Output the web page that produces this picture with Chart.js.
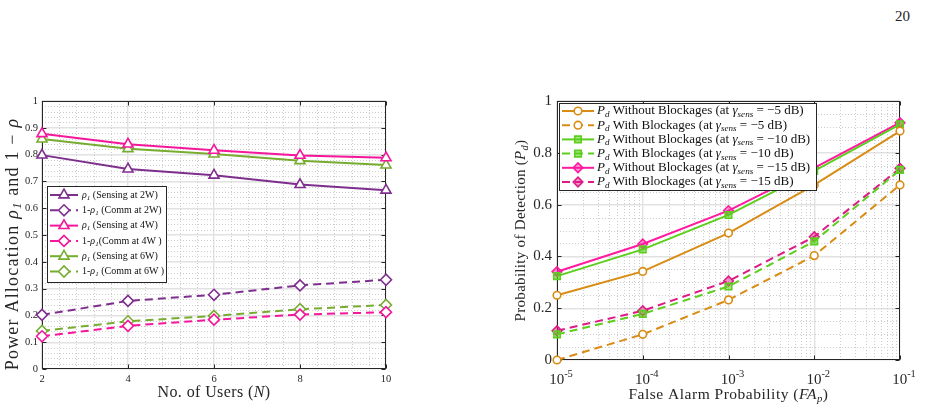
<!DOCTYPE html>
<html><head><meta charset="utf-8">
<script src="https://cdn.jsdelivr.net/npm/chart.js@4.4.1/dist/chart.umd.min.js"></script>
<style>
html,body{margin:0;padding:0;background:#fff;width:927px;height:410px;overflow:hidden}
#c1{position:absolute;left:0;top:0}
#c2{position:absolute;left:500px;top:0}
#pg{position:absolute;left:895px;top:8px;font:15px "Liberation Serif",serif;color:#222}
</style></head><body>
<div id="pg">20</div>
<canvas id="c1" width="460" height="410"></canvas>
<canvas id="c2" width="427" height="410"></canvas>
<script>
// ---------------- data: left chart ----------------
const users = [2, 4, 6, 8, 10];
const sens2W = [0.798, 0.746, 0.723, 0.688, 0.667];
const comm2W = [0.202, 0.254, 0.277, 0.312, 0.333];
const sens4W = [0.878, 0.839, 0.816, 0.797, 0.788];
const comm4W = [0.122, 0.161, 0.184, 0.203, 0.212];
const sens6W = [0.858, 0.822, 0.802, 0.777, 0.761];
const comm6W = [0.142, 0.178, 0.198, 0.223, 0.239];
const leftLabels = ['*ρ_{1}* (Sensing at 2W)', '1-*ρ_{1}* (Comm at 2W)', '*ρ_{1}* (Sensing at 4W)',
  '1-*ρ_{1}*(Comm at 4W )', '*ρ_{1}* (Sensing at 6W)', '1-*ρ_{1}* (Comm at 6W )'];
const leftYTicks = [0, 0.1, 0.2, 0.3, 0.4, 0.5, 0.6, 0.7, 0.8, 0.9, 1];
const leftXTitle = 'No. of Users (*N*)';
const leftYTitle = 'Power Allocation *ρ_{1}* and 1 − *ρ*';

// ---------------- data: right chart ----------------
const faProb = [1e-5, 1e-4, 1e-3, 1e-2, 1e-1];
const faTickLabels = ['10^{-5}', '10^{-4}', '10^{-3}', '10^{-2}', '10^{-1}'];
const pdNoBlk5 = [0.250, 0.342, 0.490, 0.676, 0.884];
const pdBlk5 = [0.000, 0.099, 0.232, 0.403, 0.676];
const pdNoBlk10 = [0.324, 0.427, 0.560, 0.730, 0.910];
const pdBlk10 = [0.099, 0.178, 0.284, 0.458, 0.734];
const pdNoBlk15 = [0.341, 0.448, 0.577, 0.742, 0.916];
const pdBlk15 = [0.113, 0.190, 0.305, 0.476, 0.740];
const rightLabels = [
  '*P_{d}* Without Blockages (at *γ_{sens}* = −5 dB)',
  '*P_{d}* With Blockages (at *γ_{sens}* = −5 dB)',
  '*P_{d}* Without Blockages (at *γ_{sens}* = −10 dB)',
  '*P_{d}* With Blockages (at *γ_{sens}* = −10 dB)',
  '*P_{d}* Without Blockages (at *γ_{sens}* = −15 dB)',
  '*P_{d}* With Blockages (at *γ_{sens}* = −15 dB)'];
const rightXTitle = 'False Alarm Probability (*FA_{p}*)';
const rightYTitle = 'Probability of Detection (*P_{d}*)';

// ---------------- helpers ----------------
const FONT = '"Liberation Serif","Times New Roman",serif';
const AXIS = '#262626';
function parseRich(s) {
  const segs = []; let it = false, buf = '';
  const push = (t, mode) => { if (t) segs.push({ t, it, mode }); };
  for (let i = 0; i < s.length; i++) {
    const c = s[i];
    if (c === '*') { push(buf, 0); buf = ''; it = !it; continue; }
    if ((c === '_' || c === '^') && s[i + 1] === '{') {
      push(buf, 0); buf = '';
      const j = s.indexOf('}', i);
      push(s.slice(i + 2, j), c === '_' ? 1 : 2);
      i = j; continue;
    }
    buf += c;
  }
  push(buf, 0);
  return segs;
}
function drawRich(ctx, s, x, y, size, align, color, spacing) {
  const segs = parseRich(s);
  const font = g => (g.it ? 'italic ' : '') + (g.mode ? size * 0.7 : size) + 'px ' + FONT;
  ctx.letterSpacing = (spacing || 0) + 'px';
  let w = 0;
  segs.forEach(g => { ctx.font = font(g); g.w = ctx.measureText(g.t).width; w += g.w; });
  let cx = align === 'center' ? x - w / 2 : (align === 'right' ? x - w : x);
  ctx.textBaseline = 'middle'; ctx.textAlign = 'left'; ctx.fillStyle = color;
  segs.forEach(g => {
    ctx.font = font(g);
    const dy = g.mode === 1 ? size * 0.28 : (g.mode === 2 ? -size * 0.38 : 0);
    ctx.fillText(g.t, cx, y + dy); cx += g.w;
  });
  ctx.letterSpacing = '0px';
  return w;
}
function seg(ctx, x1, y1, x2, y2) { ctx.beginPath(); ctx.moveTo(x1, y1); ctx.lineTo(x2, y2); ctx.stroke(); }

const decoPlugin = {
  id: 'deco',
  beforeDatasetsDraw(chart, args, o) {
    const ctx = chart.ctx, ca = chart.chartArea, xs = chart.scales.x, ys = chart.scales.y;
    ctx.save();
    ctx.strokeStyle = '#cdcdcd'; ctx.lineWidth = 1; ctx.setLineDash([1, 2]);
    o.minorX.forEach(v => { const p = Math.round(xs.getPixelForValue(v)) + 0.5; seg(ctx, p, ca.top, p, ca.bottom); });
    o.minorY.forEach(v => { const p = Math.round(ys.getPixelForValue(v)) + 0.5; seg(ctx, ca.left, p, ca.right, p); });
    ctx.setLineDash([]);
    ctx.strokeStyle = AXIS; ctx.lineWidth = 1;
    const L = Math.round(ca.left) + 0.5, R = Math.round(ca.right) - 0.5, T = Math.round(ca.top) + 0.5, B = Math.round(ca.bottom) - 0.5;
    ctx.strokeRect(L, T, R - L, B - T);
    xs.ticks.forEach(t => { const p = Math.round(xs.getPixelForValue(t.value)) + 0.5; seg(ctx, p, B, p, B - 4); seg(ctx, p, T, p, T + 4); });
    ys.ticks.forEach(t => { const p = Math.round(ys.getPixelForValue(t.value)) + 0.5; seg(ctx, L, p, L + 4, p); seg(ctx, R, p, R - 4, p); });
    ctx.restore();
  },
  afterDatasetsDraw(chart, args, o) {
    const ctx = chart.ctx, ca = chart.chartArea, xs = chart.scales.x;
    ctx.save();
    // custom x tick labels
    if (o.xLabels) {
      o.xLabels.forEach((s, i) => drawRich(ctx, s, xs.getPixelForValue(o.xValues[i]) + 4, ca.bottom + o.xLabelDy, o.xLabelSize, 'center', AXIS));
    }
    // axis titles
    drawRich(ctx, o.xTitle, (ca.left + ca.right) / 2, ca.bottom + o.xTitleDy, o.titleSize, 'center', AXIS, o.titleSpacing);
    ctx.save();
    ctx.translate(ca.left - o.yTitleDx, (ca.top + ca.bottom) / 2 + o.yTitleDy);
    ctx.rotate(-Math.PI / 2);
    drawRich(ctx, o.yTitle, 0, 0, o.yTitleSize, 'center', AXIS, o.ySpacing);
    ctx.restore();
    // legend
    const lg = o.legend;
    const bx = ca.left + lg.dx, by = ca.top + lg.dy;
    ctx.fillStyle = '#fff'; ctx.fillRect(bx, by, lg.w, lg.h);
    ctx.strokeStyle = AXIS; ctx.lineWidth = 1; ctx.strokeRect(Math.round(bx) + 0.5, Math.round(by) + 0.5, lg.w, lg.h);
    chart.data.datasets.forEach((d, i) => {
      const yy = by + lg.first + i * lg.step;
      ctx.strokeStyle = d.borderColor; ctx.lineWidth = d.borderWidth; ctx.setLineDash(d.borderDash || []);
      seg(ctx, bx + lg.l0, yy, bx + lg.l1, yy);
      ctx.setLineDash([]);
      ctx.fillStyle = d.pointBackgroundColor; ctx.strokeStyle = d.borderColor; ctx.lineWidth = d.pointBorderWidth;
      Chart.helpers.drawPoint(ctx, { pointStyle: d.pointStyle, radius: d.pointRadius, rotation: 0, borderWidth: d.pointBorderWidth }, bx + (lg.l0 + lg.l1) / 2, yy);
      drawRich(ctx, d.label, bx + lg.tx, yy, lg.size, 'left', '#111', lg.spacing);
    });
    ctx.restore();
  }
};

function ds(label, data, color, dashed, style, r, fill) {
  return {
    label, data, borderColor: color, borderWidth: 2, borderDash: dashed ? [8, 5] : [],
    pointStyle: style, pointRadius: r, pointHoverRadius: r, pointBorderWidth: 1.6,
    pointBackgroundColor: fill || '#fff', pointBorderColor: color, tension: 0, clip: false, fill: false
  };
}

// ---------------- left chart ----------------
const PURPLE = '#7E2F8E', PINK = '#F5169C', GREEN = '#77AC30';
const lx = [], ly = [];
for (let i = 1; i < 20; i++) if (i % 5) lx.push(2 + i * 0.4);
for (let i = 1; i < 50; i++) if (i % 5) ly.push(i * 0.02);
const leftSeries = [sens2W, comm2W, sens4W, comm4W, sens6W, comm6W];
const leftColors = [PURPLE, PURPLE, PINK, PINK, GREEN, GREEN];
new Chart(document.getElementById('c1'), {
  type: 'line',
  data: {
    labels: users,
    datasets: leftSeries.map((s, i) => ds(leftLabels[i], users.map((u, k) => ({ x: u, y: s[k] })), leftColors[i], i % 2 === 1,
      i % 2 === 0 ? 'triangle' : 'rectRot', i % 2 === 0 ? 5.8 : 5.5))
  },
  options: {
    responsive: false, animation: false, events: [],
    layout: { padding: { top: 101, right: 74, left: 0, bottom: 0 } },
    scales: {
      x: {
        type: 'linear', min: 2, max: 10,
        afterBuildTicks: s => { s.ticks = users.map(v => ({ value: v })); },
        afterFit: s => { s.height = 41; },
        grid: { color: '#e2e2e2', lineWidth: 1.4, drawTicks: false }, border: { display: false },
        ticks: { padding: 4, color: AXIS, font: { family: FONT, size: 10.5 }, maxRotation: 0 }
      },
      y: {
        min: 0, max: 1,
        afterBuildTicks: s => { s.ticks = leftYTicks.map(v => ({ value: v })); },
        afterFit: s => { s.width = 42; },
        grid: { color: '#e2e2e2', lineWidth: 1.4, drawTicks: false }, border: { display: false },
        ticks: { padding: 4, color: AXIS, font: { family: FONT, size: 10.5 }, callback: v => String(+v.toFixed(1)) }
      }
    },
    plugins: {
      legend: { display: false }, tooltip: { enabled: false },
      deco: {
        minorX: lx, minorY: ly, xTitle: leftXTitle, yTitle: leftYTitle,
        titleSize: 16, yTitleSize: 18, xTitleDy: 24, yTitleDx: 29, yTitleDy: 9, titleSpacing: 0.4, ySpacing: 1.2,
        legend: { dx: 5, dy: 85, w: 119, h: 96, first: 9, step: 15.3, l0: 3, l1: 31, tx: 35, size: 10, spacing: 0 }
      }
    }
  },
  plugins: [decoPlugin]
});

// ---------------- right chart ----------------
const ORANGE = '#D98C14', LGREEN = '#5CCF1E', MAG = '#FF1AA0', MAG2 = '#DE1A85';
const rx = [], ry = [];
for (let e = -5; e < -1; e++) for (let m = 2; m <= 9; m++) rx.push(m * Math.pow(10, e));
for (let i = 1; i < 20; i++) if (i % 4) ry.push(i * 0.05);
const rightSeries = [pdNoBlk5, pdBlk5, pdNoBlk10, pdBlk10, pdNoBlk15, pdBlk15];
const rightColors = [ORANGE, ORANGE, LGREEN, LGREEN, MAG, MAG2];
const rightStyles = ['circle', 'circle', 'rect', 'rect', 'rectRot', 'rectRot'];
const rightRadius = [3.8, 3.8, 4.6, 4.6, 4.8, 4.8];
const rightFill = ['#fff', '#fff', 'rgba(92,207,30,0.55)', 'rgba(92,207,30,0.55)', 'rgba(255,26,160,0.45)', 'rgba(222,26,133,0.45)'];
new Chart(document.getElementById('c2'), {
  type: 'line',
  data: {
    datasets: rightSeries.map((s, i) => ds(rightLabels[i], faProb.map((f, k) => ({ x: f, y: s[k] })), rightColors[i], i % 2 === 1,
      rightStyles[i], rightRadius[i], rightFill[i]))
  },
  options: {
    responsive: false, animation: false, events: [],
    layout: { padding: { top: 101, right: 27, left: 0, bottom: 0 } },
    scales: {
      x: {
        type: 'logarithmic', min: 1e-5, max: 1e-1,
        afterBuildTicks: s => { s.ticks = faProb.map(v => ({ value: v })); },
        afterFit: s => { s.height = 50; },
        grid: { color: '#e2e2e2', lineWidth: 1.4, drawTicks: false }, border: { display: false },
        ticks: { display: false }
      },
      y: {
        min: 0, max: 1,
        afterBuildTicks: s => { s.ticks = [0, 0.2, 0.4, 0.6, 0.8, 1].map(v => ({ value: v })); },
        afterFit: s => { s.width = 57; },
        grid: { color: '#e2e2e2', lineWidth: 1.4, drawTicks: false }, border: { display: false },
        ticks: { padding: 5, color: AXIS, font: { family: FONT, size: 15 }, callback: v => String(+v.toFixed(1)) }
      }
    },
    plugins: {
      legend: { display: false }, tooltip: { enabled: false },
      deco: {
        minorX: rx, minorY: ry, xTitle: rightXTitle, yTitle: rightYTitle,
        xLabels: faTickLabels, xValues: faProb, xLabelDy: 20, xLabelSize: 15,
        titleSize: 15.5, yTitleSize: 15, xTitleDy: 35, yTitleDx: 36, yTitleDy: 0, titleSpacing: 0.5, ySpacing: 0.3,
        legend: { dx: 2, dy: 2, w: 257, h: 87, first: 8, step: 14.2, l0: 3, l1: 35, tx: 38, size: 13, spacing: 0 }
      }
    }
  },
  plugins: [decoPlugin]
});
</script>
</body></html>
